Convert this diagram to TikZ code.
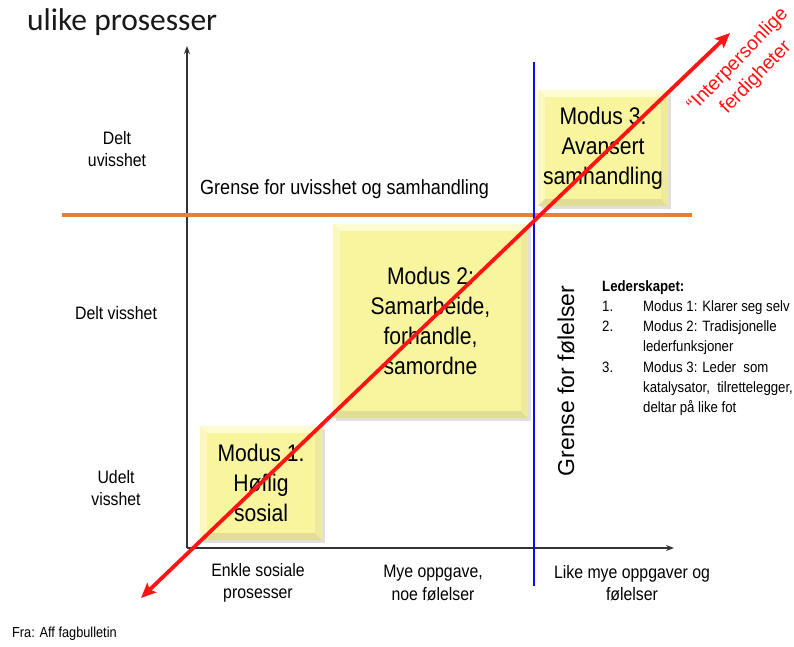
\documentclass[tikz,border=0pt]{standalone}
\usepackage{fontspec}
\setmainfont{Liberation Sans}[FakeStretch=0.88]
\newfontfamily\plainsans{Liberation Sans}
\newfontfamily\titlefont{Carlito}
\usetikzlibrary{arrows.meta,calc}

\pgfdeclarelayer{paper}
\pgfdeclarelayer{bg}
\pgfsetlayers{paper,bg,main}

\definecolor{boxyel}{HTML}{F8F59E}
\definecolor{bevlight}{HTML}{FCFBD2}
\definecolor{bevleft}{HTML}{FAF8BE}
\definecolor{bevdark}{HTML}{E2DD96}
\definecolor{bevside}{HTML}{EEEA9D}
\definecolor{limitorange}{HTML}{ED7D31}
\definecolor{limitblue}{HTML}{0A0AF5}
\definecolor{skillred}{HTML}{FF1414}
\definecolor{axisgray}{HTML}{333333}

% bevelled yellow panel behind a mode node
\newcommand{\modusbevel}[1]{%
  \begin{pgfonlayer}{bg}
    \fill[black!30, opacity=0.4] ($(#1.south west)+(3,3)$) rectangle ($(#1.north east)+(3,3)$);
    \fill[boxyel] (#1.south west) rectangle (#1.north east);
    \fill[bevlight] (#1.north west) -- (#1.north east) -- ($(#1.north east)+(-7,7)$) -- ($(#1.north west)+(7,7)$) -- cycle;
    \fill[bevleft] (#1.north west) -- ($(#1.north west)+(7,7)$) -- ($(#1.south west)+(7,-7)$) -- (#1.south west) -- cycle;
    \fill[bevdark] (#1.south west) -- ($(#1.south west)+(7,-7)$) -- ($(#1.south east)+(-7,-7)$) -- (#1.south east) -- cycle;
    \fill[bevside] (#1.south east) -- ($(#1.south east)+(-7,-7)$) -- ($(#1.north east)+(-7,7)$) -- (#1.north east) -- cycle;
  \end{pgfonlayer}}

\tikzset{
  modus/.style={rectangle, inner sep=0pt, align=center, text=black,
    font=\fontsize{24}{30}\selectfont},
  axislabel/.style={align=center, text=black, font=\fontsize{18}{22.5}\selectfont},
  axisline/.style={draw=axisgray, line width=1.8pt, -{Stealth[length=8pt,width=6pt]}},
  limitline/.style={line width=3.2pt},
  skillarrow/.style={draw=skillred, line width=3.8pt,
    {Stealth[length=15pt,width=13pt,inset=3pt]}-{Stealth[length=15pt,width=13pt,inset=3pt]}},
}

\begin{document}
\begin{tikzpicture}[x=1pt,y=-1pt]
\useasboundingbox (0,0) rectangle (794,646);
\begin{pgfonlayer}{paper}
  \fill[white] (0,0) rectangle (794,646);
\end{pgfonlayer}

% title
\node[anchor=west, inner sep=0pt, text=black!90, font=\titlefont\fontsize{31.5}{35}\selectfont] (title) at (27,22) {ulike prosesser};

% axes
\coordinate (origin) at (187,548);
\coordinate (ytop) at (187,46);
\coordinate (xend) at (674,548);
\draw[axisline] (origin) -- (ytop);
\draw[axisline] (origin) -- (xend);

% mode panels
\node[modus, minimum width=122pt, minimum height=114pt] (m1) at (261,483) {Modus 1.\\Høflig\\sosial};
\node[modus, minimum width=195pt, minimum height=194pt] (m2) at (430.5,321) {Modus 2:\\Samarbeide,\\forhandle,\\samordne};
\node[modus, minimum width=130pt, minimum height=116pt] (m3) at (603,148) {Modus 3.\\Avansert\\samhandling};
\modusbevel{m1}
\modusbevel{m2}
\modusbevel{m3}

% limit lines
\coordinate (oleft) at (62,215);
\coordinate (oright) at (692,215);
\draw[limitline, limitorange] (oleft) -- (oright);
\coordinate (btop) at (534,62);
\coordinate (bbot) at (534,586);
\draw[line width=2.6pt, limitblue] (btop) -- (bbot);

\node[anchor=west, inner sep=0pt, font=\fontsize{20.5}{24}\selectfont] (ulimit) at (200,189) {Grense for uvisshet og samhandling};
\node[rotate=90, inner sep=0pt, font=\plainsans\fontsize{23}{26}\selectfont] (flimit) at (566,381) {Grense for følelser};

% vertical scale labels
\node[axislabel] (y3) at (117,149) {Delt\\uvisshet};
\node[axislabel] (y2) at (116,313) {Delt visshet};
\node[axislabel] (y1) at (116,488) {Udelt\\visshet};

% horizontal scale labels
\node[axislabel] (x1) at (258,583) {Enkle sosiale\\prosesser};
\node[axislabel] (x2) at (433,583) {Mye oppgave,\\noe følelser};
\node[axislabel] (x3) at (632,583) {Like mye oppgaver og\\følelser};

% leadership legend
\node[anchor=north west, inner sep=0pt, align=left, font=\fontsize{15}{20.3}\selectfont] (legend) at (602,280)
  {\textbf{Lederskapet:}\\
   \makebox[41pt][l]{1.}Modus 1: Klarer seg selv\\
   \makebox[41pt][l]{2.}Modus 2: Tradisjonelle\\
   \hspace*{41pt}lederfunksjoner\\
   \makebox[41pt][l]{3.}Modus 3: Leder\ \ som\\
   \hspace*{41pt}katalysator,\ \ tilrettelegger,\\
   \hspace*{41pt}deltar på like fot};

% interpersonal skills arrow
\coordinate (rlow) at (141,598);
\coordinate (rhigh) at (730,33);
\draw[skillarrow] (rlow) -- (rhigh);
\node[rotate=46, align=center, text=skillred, inner sep=0pt, font=\plainsans\fontsize{19.5}{25}\selectfont] (skills) at (747,69) {“Interpersonlige\\ferdigheter};

% source
\node[anchor=west, inner sep=0pt, font=\fontsize{14.5}{17}\selectfont] (source) at (12,634) {Fra: Aff fagbulletin};
\end{tikzpicture}
\end{document}
